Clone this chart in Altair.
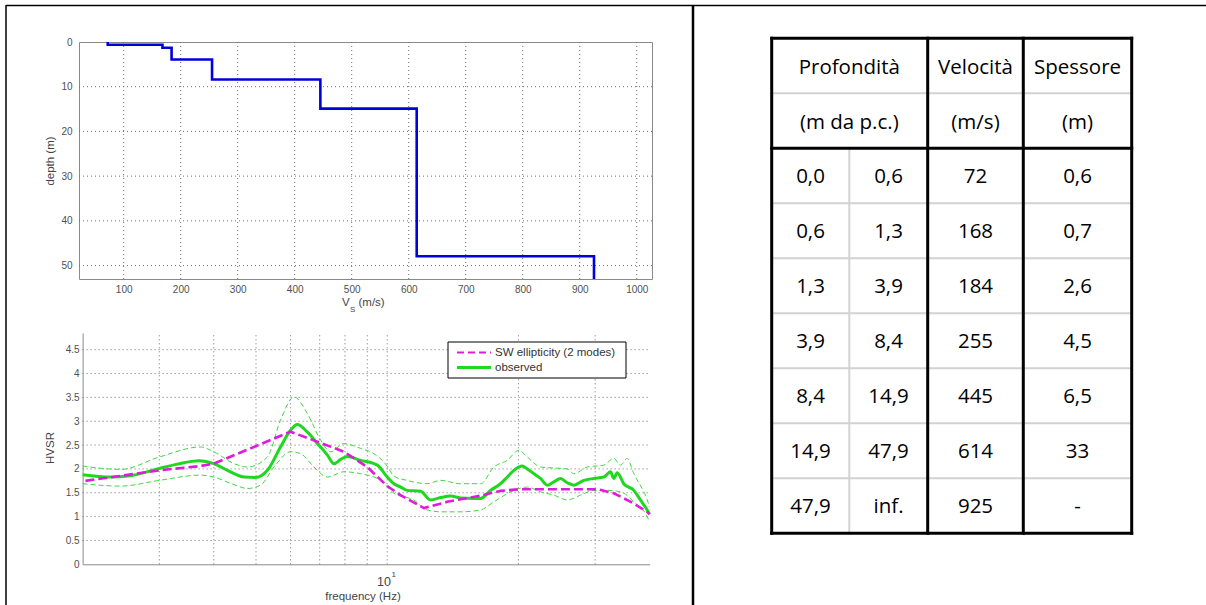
import altair as alt
import pandas as pd

# ---------------- data ----------------
layer_top = [0.0, 0.6, 1.3, 3.9, 8.4, 14.9, 47.9]
layer_bottom = [0.6, 1.3, 3.9, 8.4, 14.9, 47.9, None]   # None = half-space
layer_vs = [72, 168, 184, 255, 445, 614, 925]
layer_thickness = ["0,6", "0,7", "2,6", "4,5", "6,5", "33", "-"]

header_1 = ["Profondità", "Velocità", "Spessore"]
header_2 = ["(m da p.c.)", "(m/s)", "(m)"]

vs_ticks = [100, 200, 300, 400, 500, 600, 700, 800, 900, 1000]
depth_ticks = [0, 10, 20, 30, 40, 50]
hv_ticks = [0, 0.5, 1, 1.5, 2, 2.5, 3, 3.5, 4, 4.5]
freq_grid = [3, 4, 5, 6, 7, 8, 9, 10, 20, 30]

sw_freq = [2.03, 3.0, 3.73, 4.0, 6.0, 6.92, 7.96, 9.0, 10.0, 10.73, 12.14, 13.73,
           16.38, 18.2, 20.2, 26.8, 30.3, 33.1, 36.2, 39.5, 40.0]
sw_hv = [1.75, 1.97, 2.06, 2.11, 2.78, 2.57, 2.36, 2.04, 1.64, 1.45, 1.18, 1.31,
         1.44, 1.54, 1.575, 1.575, 1.575, 1.49, 1.31, 1.10, 1.05]

obs_freq = [2.0, 2.32, 2.54, 3.0, 3.3, 3.7, 4.0, 4.3, 4.69, 4.99,
            5.31, 5.69, 6.0, 6.22, 6.56, 6.92, 7.29, 7.55, 7.82, 8.1,
            8.69, 9.49, 10.0, 10.36, 10.73, 11.1, 11.93, 12.57, 13.26, 13.98,
            14.73, 15.81, 16.38, 17.26, 18.2, 18.86, 19.53, 20.4, 20.96, 21.71,
            22.48, 23.29, 24.12, 24.99, 25.89, 26.81, 28.26, 29.8, 31.4, 32.54,
            33.1, 33.7, 34.9, 36.8, 38.1, 39.5, 40.0]
obs_hv = [1.88, 1.83, 1.85, 2.01, 2.10, 2.17, 2.11, 1.97, 1.83, 1.82,
          1.97, 2.46, 2.81, 2.93, 2.77, 2.53, 2.29, 2.11, 2.20, 2.26,
          2.18, 2.08, 1.83, 1.69, 1.62, 1.55, 1.53, 1.35, 1.40, 1.43,
          1.39, 1.38, 1.38, 1.55, 1.69, 1.83, 1.97, 2.06, 2.00, 1.90,
          1.80, 1.66, 1.73, 1.80, 1.71, 1.66, 1.76, 1.80, 1.83, 1.94,
          1.80, 1.92, 1.69, 1.55, 1.35, 1.14, 1.05]

up_freq = [2.0, 2.45, 3.0, 3.73, 4.0, 4.45, 4.78, 5.31, 5.69, 6.11,
           6.56, 7.04, 7.42, 7.96, 8.69, 9.32, 10.0, 10.36, 11.1, 12.36,
           13.26, 14.73, 16.38, 17.57, 18.86, 20.05, 20.96, 22.48, 24.12, 25.89,
           26.81, 28.77, 31.4, 33.1, 34.3, 35.5, 36.8, 39.5, 40.0]
up_hv = [2.06, 1.99, 2.25, 2.46, 2.36, 2.11, 2.04, 2.25, 3.02, 3.51,
         3.16, 2.60, 2.36, 2.53, 2.43, 2.32, 2.06, 1.85, 1.76, 1.69,
         1.76, 1.69, 1.69, 2.04, 2.18, 2.39, 2.25, 2.04, 2.02, 2.00,
         1.90, 2.04, 2.08, 2.22, 2.08, 2.22, 1.90, 1.35, 1.20]

lo_freq = [2.0, 2.45, 3.0, 3.73, 4.0, 4.45, 4.78, 5.12, 5.5, 6.0,
           6.33, 6.79, 7.29, 7.96, 8.69, 9.66, 10.36, 11.5, 12.36, 13.26,
           14.73, 16.38, 17.57, 19.53, 20.96, 22.48, 24.12, 25.89, 27.77, 29.8,
           31.98, 34.3, 36.8, 39.5, 40.0]
lo_hv = [1.69, 1.64, 1.76, 1.87, 1.83, 1.67, 1.59, 1.66, 2.04, 2.36,
         2.32, 2.04, 1.83, 1.94, 1.90, 1.76, 1.49, 1.35, 1.14, 1.10,
         1.10, 1.14, 1.31, 1.55, 1.62, 1.52, 1.45, 1.35, 1.45, 1.55,
         1.55, 1.52, 1.31, 1.00, 0.89]

# ---------------- layout ----------------
W, H = 1206, 605
VS_DOMAIN = [21.6, 1026.75]
DEPTH_DOMAIN = [0, 53]
TOP_X_PX = [79, 652]
TOP_Y_PX = [42, 279]
FREQ_DOMAIN = [2, 40]
HV_DOMAIN = [0, 4.85]
BOT_X_PX = [82.6, 649.6]
BOT_Y_PX = [564.3, 333]
TAB_X_PX = [771.7, 849.3, 927.7, 1023.3, 1131.7]
TAB_Y_PX = [38.3, 533.3]

PLOT_FONT = "Liberation Sans"
TAB_FONT = "Open Sans"
GRID_COLOR = "#707070"
AX = dict(domainColor="#8a8a8a", domainWidth=1, labelColor="#505050",
          labelFont=PLOT_FONT, labelFontSize=10, ticks=False, tickSize=0,
          grid=False, title=None, labelFlush=False, labelOverlap=False)


def lin(domain, rng):
    return alt.Scale(type="linear", domain=domain, range=rng, nice=False, zero=False)


def logs(domain, rng):
    return alt.Scale(type="log", domain=domain, range=rng, nice=False)


def tx(field, axis=None):
    return alt.X(field, type="quantitative", scale=lin(VS_DOMAIN, TOP_X_PX), axis=axis)


def ty(field, axis=None):
    return alt.Y(field, type="quantitative", scale=lin(DEPTH_DOMAIN, TOP_Y_PX), axis=axis)


def bx(field, axis=None):
    return alt.X(field, type="quantitative", scale=logs(FREQ_DOMAIN, BOT_X_PX), axis=axis)


def by(field, axis=None):
    return alt.Y(field, type="quantitative", scale=lin(HV_DOMAIN, BOT_Y_PX), axis=axis)


one = pd.DataFrame({"k": [0]})
layers = []

# ---------------- page frame ----------------
frame = alt.Chart(one)
layers.append(frame.mark_rule(color="black", strokeWidth=1.5).encode(
    x=alt.value(6), x2=alt.value(W), y=alt.value(5.5), y2=alt.value(5.5)))
layers.append(frame.mark_rule(color="black", strokeWidth=1.5).encode(
    x=alt.value(6), x2=alt.value(6), y=alt.value(5), y2=alt.value(H)))
layers.append(frame.mark_rule(color="black", strokeWidth=2.5).encode(
    x=alt.value(693), x2=alt.value(693), y=alt.value(5), y2=alt.value(H)))

# ---------------- top plot: Vs profile ----------------
vgrid_top = pd.DataFrame({"v": vs_ticks, "d0": DEPTH_DOMAIN[0], "d1": DEPTH_DOMAIN[1]})
hgrid_top = pd.DataFrame({"d": depth_ticks[1:], "v0": VS_DOMAIN[0], "v1": VS_DOMAIN[1]})

layers.append(alt.Chart(vgrid_top).mark_rule(color=GRID_COLOR, strokeDash=[1, 3], strokeWidth=1).encode(
    x=tx("v", alt.Axis(orient="bottom", offset=TOP_Y_PX[1] - H, values=vs_ticks,
                        labelExpr="'' + datum.value", labelPadding=5, **AX)),
    y=ty("d0"), y2="d1"))
layers.append(alt.Chart(hgrid_top).mark_rule(color=GRID_COLOR, strokeDash=[1, 3], strokeWidth=1).encode(
    y=ty("d", alt.Axis(orient="left", offset=-TOP_X_PX[0], values=depth_ticks,
                        labelExpr="'' + datum.value", labelPadding=7, **AX)),
    x=tx("v0"), x2="v1"))

prof_rows = []
k = 0
for t, b, v in zip(layer_top, layer_bottom, layer_vs):
    prof_rows.append({"i": k, "vs": v, "depth": t}); k += 1
    prof_rows.append({"i": k, "vs": v, "depth": b if b is not None else DEPTH_DOMAIN[1]}); k += 1
profile = pd.DataFrame(prof_rows)

layers.append(alt.Chart(profile).mark_line(color="#0000dc", strokeWidth=2.6).encode(
    x=tx("vs", alt.Axis(orient="top", offset=-TOP_Y_PX[0], labels=False, **AX)),
    y=ty("depth", alt.Axis(orient="right", offset=TOP_X_PX[1] - W, labels=False, **AX)),
    order="i:Q"))

# ---------------- bottom plot: HVSR ----------------
vgrid_bot = pd.DataFrame({"f": freq_grid, "h0": HV_DOMAIN[0], "h1": HV_DOMAIN[1]})
hgrid_bot = pd.DataFrame({"h": hv_ticks[1:], "f0": FREQ_DOMAIN[0], "f1": FREQ_DOMAIN[1]})

layers.append(alt.Chart(vgrid_bot).mark_rule(color=GRID_COLOR, strokeDash=[1, 3], strokeWidth=1).encode(
    x=bx("f", alt.Axis(orient="bottom", offset=BOT_Y_PX[0] - H, labels=False, **AX)),
    y=by("h0"), y2="h1"))
layers.append(alt.Chart(hgrid_bot).mark_rule(color=GRID_COLOR, strokeDash=[1, 3], strokeWidth=1).encode(
    y=by("h", alt.Axis(orient="left", offset=-BOT_X_PX[0], values=hv_ticks,
                        labelExpr="'' + datum.value", labelPadding=3.5, **AX)),
    x=bx("f0"), x2="f1"))

lower = pd.DataFrame({"f": lo_freq, "hv": lo_hv})
upper = pd.DataFrame({"f": up_freq, "hv": up_hv})
observed = pd.DataFrame({"f": obs_freq, "hv": obs_hv})
sw = pd.DataFrame({"f": sw_freq, "hv": sw_hv})

for df in (lower, upper):
    layers.append(alt.Chart(df).mark_line(color="#3fd83f", strokeWidth=1, strokeDash=[5, 3],
                                          interpolate="monotone").encode(x=bx("f"), y=by("hv")))
layers.append(alt.Chart(observed).mark_line(color="#1ed81e", strokeWidth=3,
                                            interpolate="monotone").encode(x=bx("f"), y=by("hv")))
layers.append(alt.Chart(sw).mark_line(color="#dc1edc", strokeWidth=2.6, strokeDash=[9, 4]).encode(
    x=bx("f"), y=by("hv")))

# legend (drawn)
layers.append(frame.mark_rect(fill="white", stroke="black", strokeWidth=1).encode(
    x=alt.value(448), x2=alt.value(626), y=alt.value(342), y2=alt.value(378)))
layers.append(frame.mark_rule(color="#dc1edc", strokeWidth=2.2, strokeDash=[7, 4]).encode(
    x=alt.value(457), x2=alt.value(491), y=alt.value(352.5), y2=alt.value(352.5)))
layers.append(frame.mark_rule(color="#1ed81e", strokeWidth=3).encode(
    x=alt.value(457), x2=alt.value(491), y=alt.value(367.5), y2=alt.value(367.5)))
layers.append(frame.mark_text(x=495, y=352.5, align="left", baseline="middle", font=PLOT_FONT,
                              fontSize=11.5, color="#333").encode(text=alt.value("SW ellipticity (2 modes)")))
layers.append(frame.mark_text(x=495, y=367.5, align="left", baseline="middle", font=PLOT_FONT,
                              fontSize=11.5, color="#333").encode(text=alt.value("observed")))


# axis titles
def label(txt, x, y, size=11.5, angle=0, align="center"):
    return frame.mark_text(x=x, y=y, angle=angle, align=align, baseline="middle", font=PLOT_FONT,
                           fontSize=size, color="#444").encode(text=alt.value(txt))


layers.append(label("depth (m)", 50.5, 161, angle=270))
layers.append(label("V", 342, 303, align="left"))
layers.append(label("S", 350, 309.5, size=8, align="left"))
layers.append(label("(m/s)", 358.5, 303, align="left"))
layers.append(label("HVSR", 50.5, 448, angle=270))
layers.append(label("10", 384, 582, size=12.5))
layers.append(label("1", 391.5, 575, size=8, align="left"))
layers.append(label("frequency (Hz)", 363, 597))


# ---------------- table ----------------
def txs(field):
    return alt.X(field, type="quantitative", axis=None,
                 scale=alt.Scale(type="linear", domain=[0, 1, 2, 3, 4], range=TAB_X_PX, nice=False, zero=False))


def tys(field):
    return alt.Y(field, type="quantitative", axis=None,
                 scale=alt.Scale(type="linear", domain=[0, 9], range=TAB_Y_PX, nice=False, zero=False))


n_rows = 2 + len(layer_vs)
gray_segs, black_segs = [], []
for c in (0, 2, 3, 4):
    black_segs.append({"c0": c, "c1": c, "r0": 0, "r1": n_rows})
for r in (0, 2, n_rows):
    black_segs.append({"c0": 0, "c1": 4, "r0": r, "r1": r})
gray_segs.append({"c0": 1, "c1": 1, "r0": 2, "r1": n_rows})
for r in [1] + list(range(3, n_rows)):
    gray_segs.append({"c0": 0, "c1": 4, "r0": r, "r1": r})

layers.append(alt.Chart(pd.DataFrame(gray_segs)).mark_rule(color="#d2d2d2", strokeWidth=2).encode(
    x=txs("c0"), x2="c1", y=tys("r0"), y2="r1"))
layers.append(alt.Chart(pd.DataFrame(black_segs)).mark_rule(color="black", strokeWidth=3, strokeCap="square").encode(
    x=txs("c0"), x2="c1", y=tys("r0"), y2="r1"))


def fmt(v):
    return "inf." if v is None else f"{v:.1f}".replace(".", ",")


head_cells = []
for j, (h1, h2) in enumerate(zip(header_1, header_2)):
    cx = [1.0, 2.5, 3.5][j]
    head_cells.append({"t": h1, "c": cx, "r": 0.5})
    head_cells.append({"t": h2, "c": cx, "r": 1.5})
body_cells = []
for i in range(len(layer_vs)):
    r = i + 2.5
    body_cells.append({"t": fmt(layer_top[i]), "c": 0.5, "r": r})
    body_cells.append({"t": fmt(layer_bottom[i]), "c": 1.5, "r": r})
    body_cells.append({"t": str(layer_vs[i]), "c": 2.5, "r": r})
    body_cells.append({"t": layer_thickness[i], "c": 3.5, "r": r})

layers.append(alt.Chart(pd.DataFrame(head_cells)).mark_text(
    font=TAB_FONT, fontSize=20.5, color="black", baseline="middle", dy=2).encode(
    x=txs("c"), y=tys("r"), text="t:N"))
layers.append(alt.Chart(pd.DataFrame(body_cells)).mark_text(
    font=TAB_FONT, fontSize=20.5, color="black", baseline="middle", dy=1).encode(
    x=txs("c"), y=tys("r"), text="t:N"))

chart = alt.layer(*layers).resolve_scale(x="independent", y="independent").properties(
    width=W, height=H, autosize=alt.AutoSizeParams(type="none"), padding=0, background="white"
).configure_view(stroke=None)

chart.save("out.html", embed_options={"renderer": "svg", "actions": False})
